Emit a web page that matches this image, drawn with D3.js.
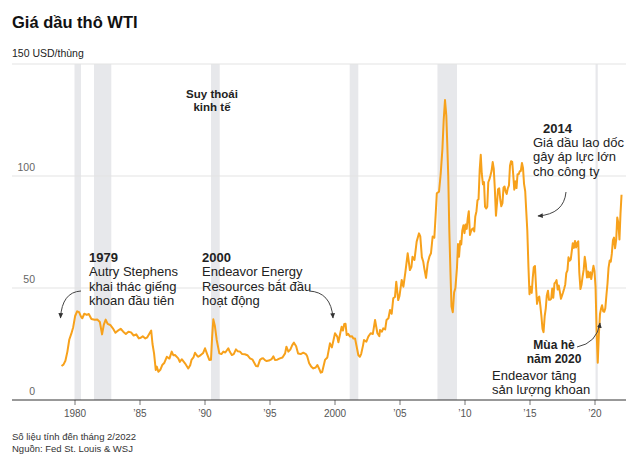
<!DOCTYPE html>
<html>
<head>
<meta charset="utf-8">
<script src="https://cdn.jsdelivr.net/npm/d3@7"></script>
<style>
  html, body { margin: 0; padding: 0; background: #fff; }
  svg { display: block; font-family: "Liberation Sans", Arial, Helvetica, sans-serif; }
</style>
</head>
<body>
<svg id="chart" width="630" height="468"></svg>
<script>
// ---- Data ----
const dates = [
  1979.0, 1979.15, 1979.3, 1979.45, 1979.6, 1979.75, 1979.9, 1980.05, 1980.2, 1980.35, 1980.5, 1980.6, 1980.75, 1980.95,
  1981.1, 1981.3, 1981.55, 1981.75, 1981.95, 1982.12, 1982.25, 1982.4, 1982.55, 1982.75, 1982.95,
  1983.15, 1983.35, 1983.55, 1983.75, 1983.95, 1984.15, 1984.35, 1984.55, 1984.75, 1984.95,
  1985.1, 1985.25, 1985.45, 1985.6, 1985.8, 1985.9, 1986.0, 1986.12, 1986.25, 1986.33, 1986.45, 1986.6, 1986.75, 1986.9,
  1987.1, 1987.3, 1987.48, 1987.6, 1987.73, 1987.98, 1988.1, 1988.25, 1988.5, 1988.75, 1988.9,
  1989.0, 1989.15, 1989.27, 1989.4, 1989.52, 1989.65, 1989.78, 1989.9, 1990.04, 1990.2, 1990.37, 1990.5, 1990.58, 1990.68, 1990.8, 1990.94,
  1991.05, 1991.14, 1991.3, 1991.45, 1991.6, 1991.83, 1991.95, 1992.1, 1992.25, 1992.42, 1992.55, 1992.73, 1992.9,
  1993.1, 1993.3, 1993.5, 1993.7, 1993.96, 1994.1, 1994.27, 1994.4, 1994.52, 1994.65, 1994.78, 1994.95,
  1995.17, 1995.3, 1995.42, 1995.6, 1995.8, 1996.0, 1996.2, 1996.3, 1996.45, 1996.6, 1996.75, 1996.88,
  1997.05, 1997.2, 1997.4, 1997.6, 1997.8, 1997.9, 1998.05, 1998.2, 1998.37, 1998.55, 1998.68, 1998.8, 1998.94,
  1999.05, 1999.27, 1999.45, 1999.65, 1999.8, 2000.04, 2000.21, 2000.3, 2000.45, 2000.55, 2000.65, 2000.75, 2000.85, 2000.94,
  2001.05, 2001.2, 2001.35, 2001.45, 2001.58, 2001.7, 2001.83, 2001.95, 2002.05, 2002.2, 2002.27, 2002.45, 2002.6, 2002.78, 2002.95,
  2003.12, 2003.3, 2003.45, 2003.5, 2003.65, 2003.75, 2003.9, 2004.0, 2004.15, 2004.27, 2004.4, 2004.52, 2004.65, 2004.75, 2004.9,
  2005.0, 2005.17, 2005.3, 2005.45, 2005.63, 2005.8, 2005.92, 2006.0, 2006.15, 2006.32, 2006.5, 2006.6, 2006.72, 2006.83, 2006.9,
  2007.04, 2007.17, 2007.3, 2007.42, 2007.55, 2007.68, 2007.78, 2007.87, 2008.04, 2008.17, 2008.3, 2008.4, 2008.5, 2008.6, 2008.67,
  2008.75, 2008.83, 2008.92, 2009.0, 2009.1, 2009.2, 2009.3, 2009.42, 2009.5, 2009.58, 2009.67, 2009.75, 2009.83, 2009.92,
  2010.0, 2010.08, 2010.17, 2010.25, 2010.33, 2010.42, 2010.5, 2010.58, 2010.67, 2010.75, 2010.83, 2010.92,
  2011.0, 2011.08, 2011.17, 2011.25, 2011.33, 2011.42, 2011.5, 2011.58, 2011.67, 2011.75, 2011.83, 2011.92,
  2012.0, 2012.08, 2012.17, 2012.25, 2012.33, 2012.42, 2012.5, 2012.58, 2012.67, 2012.75, 2012.83, 2012.92,
  2013.0, 2013.08, 2013.17, 2013.25, 2013.33, 2013.42, 2013.5, 2013.58, 2013.67, 2013.75, 2013.83, 2013.92,
  2014.0, 2014.08, 2014.17, 2014.25, 2014.33, 2014.42, 2014.5, 2014.58, 2014.67, 2014.75, 2014.83, 2014.92,
  2015.0, 2015.08, 2015.17, 2015.25, 2015.33, 2015.42, 2015.5, 2015.58, 2015.67, 2015.75, 2015.83, 2015.92,
  2016.0, 2016.08, 2016.17, 2016.25, 2016.33, 2016.42, 2016.5, 2016.58, 2016.67, 2016.75, 2016.83, 2016.92,
  2017.0, 2017.08, 2017.17, 2017.25, 2017.33, 2017.42, 2017.5, 2017.58, 2017.67, 2017.75, 2017.83, 2017.92,
  2018.0, 2018.08, 2018.17, 2018.25, 2018.33, 2018.42, 2018.5, 2018.58, 2018.67, 2018.75, 2018.83, 2018.92,
  2019.0, 2019.08, 2019.17, 2019.25, 2019.33, 2019.42, 2019.5, 2019.58, 2019.67, 2019.75, 2019.83, 2019.92,
  2020.0, 2020.08, 2020.17, 2020.25, 2020.33, 2020.42, 2020.5, 2020.58, 2020.67, 2020.75, 2020.83, 2020.92,
  2021.0, 2021.08, 2021.17, 2021.25, 2021.33, 2021.42, 2021.5, 2021.58, 2021.67, 2021.75, 2021.83, 2021.92,
  2022.0, 2022.08
];
const prices = [
  15.2, 15.8, 17.5, 21.5, 27.0, 29.5, 32.5, 37.5, 39.6, 39.2, 37.2, 36.5, 38.5, 38.0,
  38.4, 36.2, 35.8, 35.9, 34.8, 29.3, 33.5, 35.9, 34.0, 33.5, 32.0,
  30.0, 31.0, 31.8, 30.5, 29.5, 30.5, 30.2, 28.8, 29.3, 27.5,
  27.8, 28.5, 27.5, 28.0, 30.0, 31.0, 25.0, 20.8, 13.4, 14.9, 12.6, 13.5, 15.6, 16.5,
  19.3, 18.5, 21.6, 20.0, 20.1, 18.6, 17.0, 18.2, 16.4, 14.1, 15.5,
  17.9, 19.0, 21.1, 20.0, 19.3, 19.8, 20.4, 21.0, 23.1, 20.5, 17.9, 18.0, 27.5, 36.0, 33.0, 26.8,
  23.5, 20.8, 20.5, 21.6, 21.2, 23.1, 21.5, 20.1, 20.5, 22.6, 21.8, 21.6, 20.5,
  20.4, 20.0, 18.6, 18.0, 15.2, 15.0, 17.9, 18.5, 18.6, 17.8, 17.4, 17.6,
  18.3, 19.5, 17.9, 18.0, 18.6, 19.0, 20.8, 23.8, 21.6, 22.5, 24.5, 25.6,
  24.0, 20.8, 20.5, 21.1, 20.5, 19.5, 16.4, 15.0, 14.1, 14.5, 15.6, 14.2, 12.2,
  12.5, 17.9, 19.0, 25.3, 23.5, 29.8, 28.3, 25.8, 30.0, 32.7, 31.0, 33.9, 34.0, 29.0,
  29.5, 28.3, 28.5, 27.5, 27.5, 24.0, 20.1, 19.3, 20.5, 24.5, 26.8, 26.0, 28.3, 29.8, 29.5,
  35.7, 29.8, 28.5, 31.3, 30.5, 32.0, 31.5, 35.7, 36.5, 40.2, 38.5, 45.4, 46.0, 52.8, 44.6,
  46.5, 53.6, 50.6, 57.0, 65.5, 58.0, 59.5, 64.0, 62.5, 70.7, 74.4, 73.0, 63.8, 61.7, 59.0,
  54.5, 61.0, 64.0, 65.5, 73.0, 72.5, 82.6, 92.3, 93.0, 101.0, 112.0, 125.0, 133.9, 127.0, 115.0,
  100.0, 76.0, 57.0, 41.7, 39.2, 48.0, 50.0, 59.0, 69.6, 64.0, 71.0, 69.4, 75.7, 78.0,
  74.5, 78.3, 76.4, 81.2, 84.3, 73.7, 75.3, 76.3, 76.6, 75.2, 81.9, 84.3,
  89.2, 89.6, 102.9, 109.5, 100.9, 96.3, 97.3, 86.3, 85.5, 86.3, 97.2, 98.6,
  100.3, 102.2, 106.2, 103.3, 94.7, 82.3, 87.9, 94.1, 94.5, 89.5, 86.5, 87.9,
  94.8, 95.3, 92.9, 92.0, 94.5, 95.8, 104.6, 106.6, 106.3, 100.5, 93.9, 97.6,
  94.6, 100.8, 100.8, 102.1, 102.2, 105.8, 103.6, 96.5, 93.2, 84.4, 75.8, 59.3,
  47.2, 50.6, 47.8, 54.5, 59.3, 59.8, 50.9, 42.9, 45.5, 46.2, 42.4, 37.2,
  31.7, 30.3, 37.5, 40.8, 46.7, 48.8, 44.7, 44.7, 45.2, 49.8, 45.7, 52.0,
  52.5, 53.5, 49.3, 51.1, 48.5, 45.2, 46.6, 48.0, 49.8, 51.6, 56.6, 57.9,
  63.7, 62.2, 62.7, 66.3, 70.0, 67.9, 71.0, 68.1, 70.2, 70.8, 57.0, 49.5,
  51.4, 55.0, 58.2, 63.9, 60.8, 54.7, 57.4, 54.8, 57.0, 54.0, 57.0, 59.9,
  57.5, 50.5, 29.2, 16.6, 28.6, 38.3, 40.7, 42.3, 39.6, 39.4, 40.9, 47.0,
  52.0, 59.0, 62.3, 61.7, 65.2, 71.4, 72.5, 67.7, 71.6, 81.5, 79.2, 71.7,
  83.2, 91.6
];
const recessionStarts = [1980.0, 1981.5, 1990.5, 2001.17, 2007.92, 2020.08];
const recessionEnds   = [1980.5, 1982.83, 1991.17, 2001.83, 2009.42, 2020.25];
const xTickValues = [1980, 1985, 1990, 1995, 2000, 2005, 2010, 2015, 2020];
const xTickLabels = ["1980", "’85", "’90", "’95", "2000", "’05", "’10", "’15", "’20"];
const yTickValues = [0, 50, 100, 150];
const yTickLabels = ["0", "50", "100", "150 USD/thùng"];

// ---- Layout ----
const svg = d3.select("#chart");
const W = 630, H = 468;
svg.append("rect").attr("width", W).attr("height", H).attr("fill", "#fff");

const x = d3.scaleLinear().domain([1980, 2020]).range([74.5, 594.5]);
const y = d3.scaleLinear().domain([0, 150]).range([400, 64]);
const gridLeft = 12, gridRight = 626;

// Title
svg.append("text").attr("x", 12).attr("y", 28)
  .attr("font-size", 16.5).attr("font-weight", "bold").attr("fill", "#111")
  .text("Giá dầu thô WTI");

// Recession bands
const bands = recessionStarts.map((s, i) => ({ s, e: recessionEnds[i] }));
svg.append("g").selectAll("rect").data(bands).join("rect")
  .attr("x", d => x(d.s)).attr("width", d => x(d.e) - x(d.s))
  .attr("y", y(150)).attr("height", y(0) - y(150))
  .attr("fill", "#e7e8eb");

// Gridlines
svg.append("g").selectAll("line").data(yTickValues.filter(v => v > 0)).join("line")
  .attr("x1", gridLeft).attr("x2", gridRight)
  .attr("y1", d => y(d)).attr("y2", d => y(d))
  .attr("stroke", "#e3e3e3").attr("stroke-width", 1);

// Y labels
yTickValues.forEach((v, i) => {
  const isTop = i === yTickValues.length - 1;
  svg.append("text")
    .attr("x", isTop ? 12 : 35)
    .attr("y", y(v) - (isTop ? 7 : 5))
    .attr("text-anchor", isTop ? "start" : "end")
    .attr("font-size", 10.5)
    .attr("fill", isTop ? "#222" : "#666")
    .text(yTickLabels[i]);
});

// Line
const series = dates.map((d, i) => ({ t: d, v: prices[i] }));
const line = d3.line().x(d => x(d.t)).y(d => y(d.v));
svg.append("path").datum(series)
  .attr("d", line).attr("fill", "none")
  .attr("stroke", "#f7a11b").attr("stroke-width", 2)
  .attr("stroke-linejoin", "round");

// X axis
const xAxis = d3.axisBottom(x).tickValues(xTickValues)
  .tickFormat((d, i) => xTickLabels[i]).tickSize(5).tickSizeOuter(0);
const gx = svg.append("g").attr("transform", `translate(0,${y(0)})`).call(xAxis);
gx.select(".domain").remove();
gx.selectAll(".tick line").attr("stroke", "#777");
gx.selectAll(".tick text").attr("font-size", 10).attr("fill", "#555")
  .attr("font-family", "Liberation Sans, Arial, sans-serif").attr("dy", "0.85em");
svg.append("line").attr("x1", gridLeft).attr("x2", gridRight)
  .attr("y1", y(0)).attr("y2", y(0)).attr("stroke", "#333").attr("stroke-width", 1);

// Annotations
const defs = svg.append("defs");
defs.append("marker").attr("id", "arr").attr("viewBox", "0 0 10 10")
  .attr("refX", 8).attr("refY", 5).attr("markerWidth", 6).attr("markerHeight", 6)
  .attr("orient", "auto")
  .append("path").attr("d", "M0,1 L9,5 L0,9 Z").attr("fill", "#333");

function textBlock(lines, x0, y0, opts) {
  const g = svg.append("g");
  lines.forEach((ln, i) => {
    g.append("text").attr("x", ln.x !== undefined ? ln.x : x0).attr("y", y0 + i * (opts.lh || 14.5))
      .attr("font-size", ln.size || opts.size || 13)
      .attr("font-weight", ln.bold ? "bold" : "normal")
      .attr("text-anchor", opts.anchor || "start")
      .attr("fill", "#222").text(ln.t);
  });
}
function arrow(d) {
  svg.append("path").attr("d", d).attr("fill", "none")
    .attr("stroke", "#444").attr("stroke-width", 1).attr("marker-end", "url(#arr)");
}

textBlock([{ t: "Suy thoái", bold: true }, { t: "kinh tế", bold: true }], 212, 98,
  { size: 11.5, lh: 12.5, anchor: "middle" });

textBlock([{ t: "1979", bold: true }, { t: "Autry Stephens" }, { t: "khai thác giếng" }, { t: "khoan đầu tiên" }],
  89, 261.5, { size: 13, lh: 14.6 });
arrow("M81,291 Q62,292 60.5,318");

textBlock([{ t: "2000", bold: true }, { t: "Endeavor Energy" }, { t: "Resources bắt đầu" }, { t: "hoạt động" }],
  202, 261.5, { size: 13, lh: 14.6 });
arrow("M309,291 Q331,292 333,318");

textBlock([{ t: "2014", bold: true, x: 543 }, { t: "Giá dầu lao dốc" }, { t: "gây áp lực lớn" }, { t: "cho công ty" }],
  533, 133, { size: 13, lh: 14.2 });
arrow("M566,192 Q564,214 538,216");

textBlock([{ t: "Mùa hè", bold: true }, { t: "năm 2020", bold: true }], 554, 349,
  { size: 12, lh: 13.5, anchor: "middle" });
arrow("M577,347 Q597,343 600,323");
textBlock([{ t: "Endeavor tăng" }, { t: "sản lượng khoan" }], 492, 380, { size: 13, lh: 14.3 });

// Footer
svg.append("text").attr("x", 12).attr("y", 440).attr("font-size", 9.5).attr("fill", "#333")
  .text("Số liệu tính đến tháng 2/2022");
svg.append("text").attr("x", 12).attr("y", 452).attr("font-size", 9.5).attr("fill", "#333")
  .text("Nguồn: Fed St. Louis & WSJ");
</script>
</body>
</html>
